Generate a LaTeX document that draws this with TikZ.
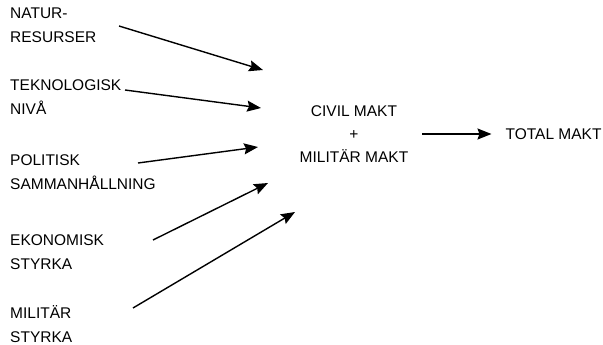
\documentclass[tikz,border=0pt]{standalone}
\usepackage{fontspec}
\setmainfont{Liberation Sans}
\usetikzlibrary{arrows.meta,positioning}

\begin{document}
\begin{tikzpicture}[x=1pt,y=-1pt,
  faktor/.style = {anchor=west,align=left,inner sep=0pt,font=\fontsize{15.5}{24}\selectfont},
  pil/.style = {draw = black, line width=1.4pt, -{Stealth[length=14pt,width=11pt,inset=2pt]}}]
\useasboundingbox (0,0) rectangle (603,345);
% faktorer till vanster
\node[faktor] (natur) at (10,25)  {NATUR-\\RESURSER};
\node[faktor] (tekn)  at (10,97)  {TEKNOLOGISK\\NIVÅ};
\node[faktor] (pol)   at (10,172) {POLITISK\\SAMMANHÅLLNING};
\node[faktor] (ekon)  at (10,252) {EKONOMISK\\STYRKA};
\node[faktor] (mil)   at (10,324) {MILITÄR\\STYRKA};
% mitten och hoger
\node[align=center,inner sep=0pt,font=\fontsize{15.5}{23}\selectfont] (sum) at (354,134) {CIVIL MAKT\\+\\MILITÄR MAKT};
\node[inner sep=0pt,font=\fontsize{15.5}{24}\selectfont, right=97pt of sum] (total) {TOTAL MAKT};
% pilarnas andpunkter
\coordinate (natur-ut) at (119,26);  \coordinate (natur-in) at (263,70);
\coordinate (tekn-ut)  at (125,90);  \coordinate (tekn-in)  at (261,108);
\coordinate (pol-ut)   at (138,163); \coordinate (pol-in)   at (258,147);
\coordinate (ekon-ut)  at (153,240); \coordinate (ekon-in)  at (268,183);
\coordinate (mil-ut)   at (133,308); \coordinate (mil-in)   at (295,212);
\draw[pil] (natur-ut) -- (natur-in);
\draw[pil] (tekn-ut) -- (tekn-in);
\draw[pil] (pol-ut) -- (pol-in);
\draw[pil] (ekon-ut) -- (ekon-in);
\draw[pil] (mil-ut) -- (mil-in);
\draw[pil, shorten <=14pt, shorten >=14pt] (sum.east) -- (total.west);
\end{tikzpicture}
\end{document}
